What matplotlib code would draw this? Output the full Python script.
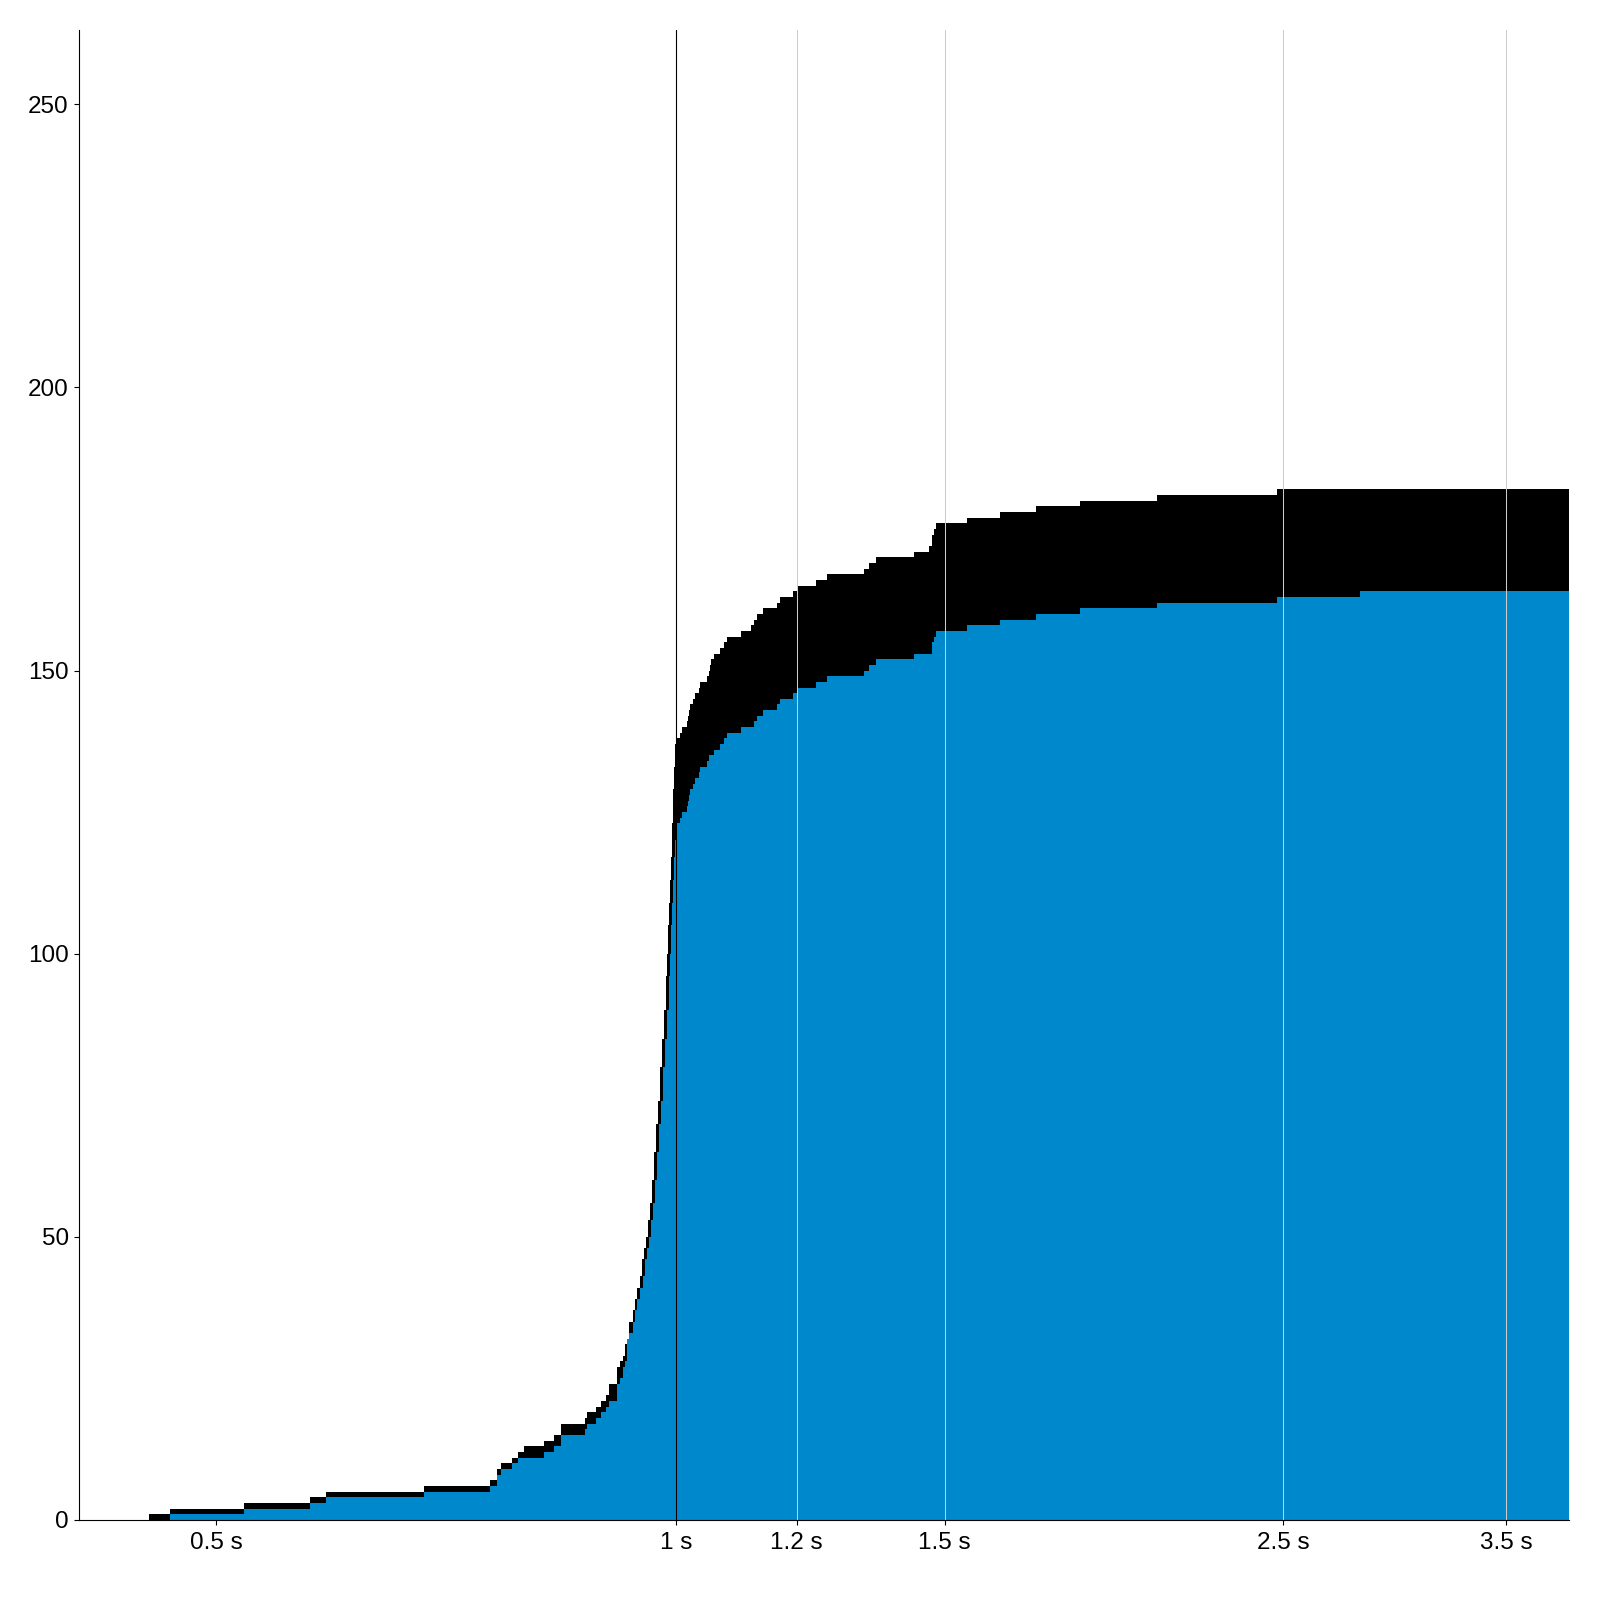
import numpy as np
import matplotlib
matplotlib.use("Agg")
import matplotlib.pyplot as plt
from matplotlib.ticker import NullLocator

plt.rcParams['font.family'] = ['Liberation Sans', 'DejaVu Sans']

# cumulative counts, step starts in seconds
total_t = [0.4518, 0.4664, 0.5214, 0.5760, 0.5901, 0.6841, 0.7557, 0.7638, 0.7684, 0.7812,
           0.7883, 0.7955, 0.8198, 0.8323, 0.8411, 0.8721, 0.8748, 0.8867, 0.8934, 0.9002,
           0.9043, 0.9153, 0.9194, 0.9236, 0.9264, 0.9292, 0.9320, 0.9376, 0.9405, 0.9433,
           0.9476, 0.9504, 0.9533, 0.9562, 0.9591, 0.9620, 0.9649, 0.9678, 0.9707, 0.9737,
           0.9766, 0.9796, 0.9825, 0.9855, 0.9870, 0.9885, 0.9899, 0.9914, 0.9929, 0.9944,
           0.9959, 0.9974, 0.9989, 1.0020, 1.0065, 1.0095, 1.0172, 1.0187, 1.0203, 1.0218,
           1.0264, 1.0295, 1.0358, 1.0373, 1.0483, 1.0515, 1.0531, 1.0547, 1.0595, 1.0691,
           1.0756, 1.0804, 1.1035, 1.1203, 1.1254, 1.1305, 1.1407, 1.1651, 1.1704, 1.1935,
           1.2008, 1.2357, 1.2563, 1.3285, 1.3385, 1.3527, 1.4325, 1.4653, 1.4719, 1.4764,
           1.4808, 1.5517, 1.6309, 1.7219, 1.8402, 2.0667, 2.4766]
total_n = [1, 2, 3, 4, 5, 6, 7, 9, 10, 11,
           12, 13, 14, 15, 17, 18, 19, 20, 21, 22,
           24, 27, 28, 29, 31, 32, 35, 37, 39, 41,
           43, 46, 48, 50, 53, 56, 60, 65, 70, 74,
           80, 85, 90, 96, 100, 105, 109, 113, 117, 123,
           129, 133, 137, 138, 139, 140, 141, 142, 143, 144,
           145, 146, 147, 148, 149, 150, 151, 152, 153, 154,
           155, 156, 157, 158, 159, 160, 161, 162, 163, 164,
           165, 166, 167, 168, 169, 170, 171, 172, 174, 175,
           176, 177, 178, 179, 180, 181, 182]

blue_t = [0.4664, 0.5214, 0.5760, 0.5901, 0.6841, 0.7557, 0.7638, 0.7684, 0.7812, 0.7883,
          0.8198, 0.8323, 0.8411, 0.8721, 0.8748, 0.8867, 0.8934, 0.9002, 0.9043, 0.9153,
          0.9194, 0.9236, 0.9264, 0.9292, 0.9320, 0.9376, 0.9405, 0.9433, 0.9476, 0.9519,
          0.9548, 0.9576, 0.9605, 0.9634, 0.9663, 0.9693, 0.9722, 0.9751, 0.9781, 0.9810,
          0.9840, 0.9870, 0.9899, 0.9914, 0.9929, 0.9944, 0.9959, 0.9974, 0.9989, 1.0005,
          1.0065, 1.0095, 1.0172, 1.0187, 1.0203, 1.0218, 1.0264, 1.0295,
          1.0358, 1.0373, 1.0483, 1.0515, 1.0595, 1.0691, 1.0756, 1.0804, 1.1035, 1.1254,
          1.1305, 1.1407, 1.1651, 1.1704, 1.1935, 1.2008, 1.2357, 1.2563, 1.3285, 1.3385,
          1.3527, 1.4325, 1.4719, 1.4764, 1.4808, 1.5517, 1.6309, 1.7219, 1.8402, 2.0667,
          2.4766, 2.8070]
blue_n = [1, 2, 3, 4, 5, 6, 8, 9, 10, 11,
          12, 13, 15, 16, 17, 18, 19, 20, 21, 24,
          25, 27, 28, 32, 33, 35, 37, 39, 41, 43,
          46, 48, 50, 53, 56, 60, 65, 70, 74, 80,
          85, 90, 96, 100, 105, 109, 113, 117, 120, 123,
          124, 125, 126, 127, 128, 129, 130, 131,
          132, 133, 134, 135, 136, 137, 138, 139, 140, 141,
          142, 143, 144, 145, 146, 147, 148, 149, 150, 151,
          152, 153, 155, 156, 157, 158, 159, 160, 161, 162,
          163, 164]

t_end = 3.847

tick_vals = [0.5, 1, 1.2, 1.5, 2.5, 3.5]
tick_labels = ["0.5 s", "1 s", "1.2 s", "1.5 s", "2.5 s", "3.5 s"]
grid_vals = [1.2, 1.5, 2.5, 3.5]
y_ticks = [0, 50, 100, 150, 200, 250]

fig = plt.figure(figsize=(16, 16), dpi=100)
ax = fig.add_axes([0.0496, 0.05, 0.9310, 0.93125])
ax.set_xscale('log')

ax.fill_between(total_t + [t_end], total_n + [total_n[-1]], step='post',
                color='black', lw=0, zorder=1)
ax.fill_between(blue_t + [t_end], blue_n + [blue_n[-1]], step='post',
                color='#0088cc', lw=0, zorder=2)

for v in grid_vals:
    ax.axvline(v, color='#cccccc', lw=0.75, zorder=3)
ax.axvline(1, color='black', lw=0.8, zorder=3)

ax.set_xlim(0.4068, t_end)
ax.set_ylim(0, 263.1)

ax.set_xticks(tick_vals)
ax.set_xticklabels(tick_labels)
ax.xaxis.set_minor_locator(NullLocator())
ax.set_yticks(y_ticks)

for s in ['top', 'right']:
    ax.spines[s].set_visible(False)
for s in ['left', 'bottom']:
    ax.spines[s].set_linewidth(0.8)
    ax.spines[s].set_zorder(4)

ax.tick_params(axis='both', direction='out', length=3.6, width=0.8,
               labelsize=17.5, colors='black')
ax.tick_params(axis='x', pad=5)
ax.tick_params(axis='y', pad=4)

fig.savefig('out.png', dpi=100, facecolor='white')
